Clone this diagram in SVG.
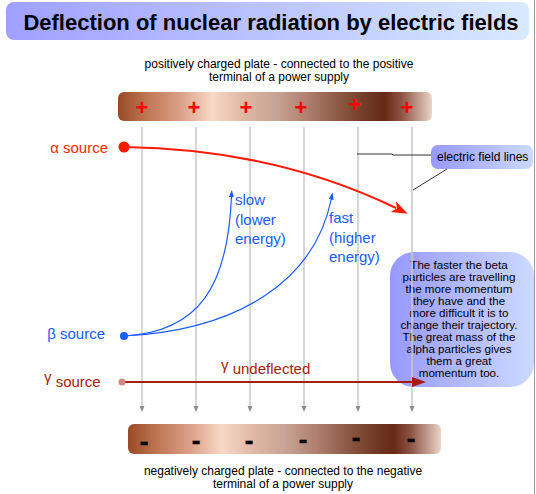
<svg xmlns="http://www.w3.org/2000/svg" width="536" height="494" viewBox="0 0 536 494">
<defs>
<linearGradient id="titleGrad" x1="0" y1="0" x2="1" y2="0">
<stop offset="0" stop-color="#a0a0ff"/><stop offset="0.5" stop-color="#bcc4ff"/><stop offset="1" stop-color="#d8eaff"/>
</linearGradient>
<linearGradient id="boxGrad" x1="0" y1="0" x2="1" y2="0">
<stop offset="0" stop-color="#9898ff"/><stop offset="1" stop-color="#ccdaff"/>
</linearGradient>
<linearGradient id="plateGrad" x1="0" y1="0" x2="1" y2="0">
<stop offset="0" stop-color="#9a4a24"/><stop offset="0.1" stop-color="#c07a58"/><stop offset="0.2" stop-color="#dca088"/>
<stop offset="0.3" stop-color="#f8d8c6"/><stop offset="0.4" stop-color="#e0b8a4"/><stop offset="0.5" stop-color="#c8a494"/>
<stop offset="0.6" stop-color="#b08070"/><stop offset="0.7" stop-color="#8c5a44"/><stop offset="0.8" stop-color="#6e3822"/>
<stop offset="0.85" stop-color="#682a16"/><stop offset="0.9" stop-color="#8a5040"/><stop offset="1" stop-color="#ead4c8"/>
</linearGradient>
<marker id="fieldArrow" markerUnits="userSpaceOnUse" markerWidth="8" markerHeight="8" refX="0" refY="2.5" orient="auto">
<path d="M0,0 L6,2.5 L0,5 z" fill="#8c8c8c"/>
</marker>
<marker id="alphaArrow" markerUnits="userSpaceOnUse" markerWidth="20" markerHeight="14" refX="3" refY="6" orient="auto">
<path d="M0,0 L16,6 L0,12 L4,6 z" fill="#ff1a00"/>
</marker>
<marker id="betaArrow" markerUnits="userSpaceOnUse" markerWidth="10" markerHeight="8" refX="1" refY="2.5" orient="auto">
<path d="M0,0 L7,2.5 L0,5 z" fill="#1a5cff"/>
</marker>
<marker id="gammaArrow" markerUnits="userSpaceOnUse" markerWidth="16" markerHeight="12" refX="0" refY="5" orient="auto">
<path d="M0,0 L14,5 L0,10 z" fill="#a81c0c"/>
</marker>
</defs>
<style>
text { font-family: "Liberation Sans", Arial, sans-serif; }
.cap { font-size: 12px; fill: #000; text-anchor: middle; }
.plus { font-size: 22px; font-weight: bold; fill: #ff0000; text-anchor: middle; }
.minus { font-size: 26px; font-weight: bold; fill: #000; stroke: #000; stroke-width: 0.5; text-anchor: middle; }
.field { stroke: #c8c8c8; stroke-width: 1.5; fill: none; marker-end: url(#fieldArrow); }
.alpha { fill: #ff2a00; font-size: 15px; }
.beta { fill: #1a5cff; font-size: 15px; }
.gamma { fill: #a81c0c; font-size: 15px; }
.note { font-size: 11.6px; fill: #000; text-anchor: middle; }
</style>
<line x1="534.5" y1="0" x2="534.5" y2="494" stroke="#9a9a9a" stroke-width="1"/>

<g id="title">
<rect x="6" y="2" width="523" height="38" rx="8" fill="url(#titleGrad)"/>
<text x="271" y="30" font-size="22" font-weight="bold" text-anchor="middle" fill="#000">Deflection of nuclear radiation by electric fields</text>
</g>

<g id="positive-plate">
<text class="cap" x="279" y="68">positively charged plate - connected to the positive</text>
<text class="cap" x="279" y="81">terminal of a power supply</text>
<rect x="118" y="92" width="314" height="29" rx="6" fill="url(#plateGrad)"/>
<text class="plus" x="142" y="115">+</text>
<text class="plus" x="194" y="115">+</text>
<text class="plus" x="246" y="115">+</text>
<text class="plus" x="301" y="115">+</text>
<text class="plus" x="355" y="112">+</text>
<text class="plus" x="407" y="115">+</text>
</g>

<g id="negative-plate">
<rect x="128" y="424" width="313" height="30" rx="6" fill="url(#plateGrad)"/>
<text class="minus" x="144" y="450">-</text>
<text class="minus" x="196" y="449">-</text>
<text class="minus" x="249" y="449">-</text>
<text class="minus" x="303" y="448">-</text>
<text class="minus" x="356" y="446">-</text>
<text class="minus" x="411" y="447">-</text>
<text class="cap" x="283" y="475">negatively charged plate - connected to the negative</text>
<text class="cap" x="283" y="488">terminal of a power supply</text>
</g>

<g id="note-box">
<rect x="390" y="252" width="144" height="135" rx="24" fill="url(#boxGrad)"/>
<text class="note" x="459" y="269">The faster the beta</text>
<text class="note" x="459" y="281">particles are travelling</text>
<text class="note" x="459" y="293">the more momentum</text>
<text class="note" x="459" y="305">they have and the</text>
<text class="note" x="459" y="317">more difficult it is to</text>
<text class="note" x="459" y="329">change their trajectory.</text>
<text class="note" x="459" y="341">The great mass of the</text>
<text class="note" x="459" y="353">alpha particles gives</text>
<text class="note" x="459" y="365">them a great</text>
<text class="note" x="459" y="377">momentum too.</text>
</g>

<g id="connectors">
<path class="field" d="M142,127 V406"/>
<path class="field" d="M196,127 V406"/>
<path class="field" d="M250,127 V406"/>
<path class="field" d="M304,127 V406"/>
<path class="field" d="M358,127 V406"/>
<path class="field" d="M412,127 V406"/>
<path d="M124,147 Q274,149 396,208" fill="none" stroke="#ff1a00" stroke-width="2" marker-end="url(#alphaArrow)"/>
<path d="M124,336 C200,332 228,285 231.5,196" fill="none" stroke="#1a5cff" stroke-width="1.2" marker-end="url(#betaArrow)"/>
<path d="M124,336 C240,330 315,280 331.4,198.5" fill="none" stroke="#1a5cff" stroke-width="1.2" marker-end="url(#betaArrow)"/>
<path d="M122,382 H412" fill="none" stroke="#a81c0c" stroke-width="2" marker-end="url(#gammaArrow)"/>
<polyline points="357,154 392,154 393,155 431,155" fill="none" stroke="#000" stroke-width="0.8"/>
<line x1="447" y1="169" x2="413" y2="190" stroke="#000" stroke-width="0.8"/>
</g>

<g id="field-label">
<rect x="431" y="145" width="102" height="24" rx="7" fill="url(#boxGrad)"/>
<text x="437" y="161" font-size="12" fill="#000">electric field lines</text>
</g>

<g id="alpha-source">
<text class="alpha" x="108" y="153" text-anchor="end">α source</text>
<circle cx="124" cy="147" r="5.5" fill="#ff1a00"/>
</g>

<g id="beta-source">
<text class="beta" x="105" y="339" text-anchor="end">β source</text>
<circle cx="124" cy="336" r="4" fill="#1a5cff"/>
<text class="beta" x="235" y="205">slow</text>
<text class="beta" x="235" y="225">(lower</text>
<text class="beta" x="235" y="244">energy)</text>
<text class="beta" x="329" y="223">fast</text>
<text class="beta" x="329" y="243">(higher</text>
<text class="beta" x="329" y="262">energy)</text>
</g>

<g id="gamma-source">
<text class="gamma" x="44" y="387"><tspan dy="-5">γ</tspan><tspan dy="5"> source</tspan></text>
<circle cx="122" cy="382" r="3.5" fill="#d08a80"/>
<text class="gamma" x="221" y="374"><tspan dy="-4">γ</tspan><tspan dy="4"> undeflected</tspan></text>
</g>
</svg>
